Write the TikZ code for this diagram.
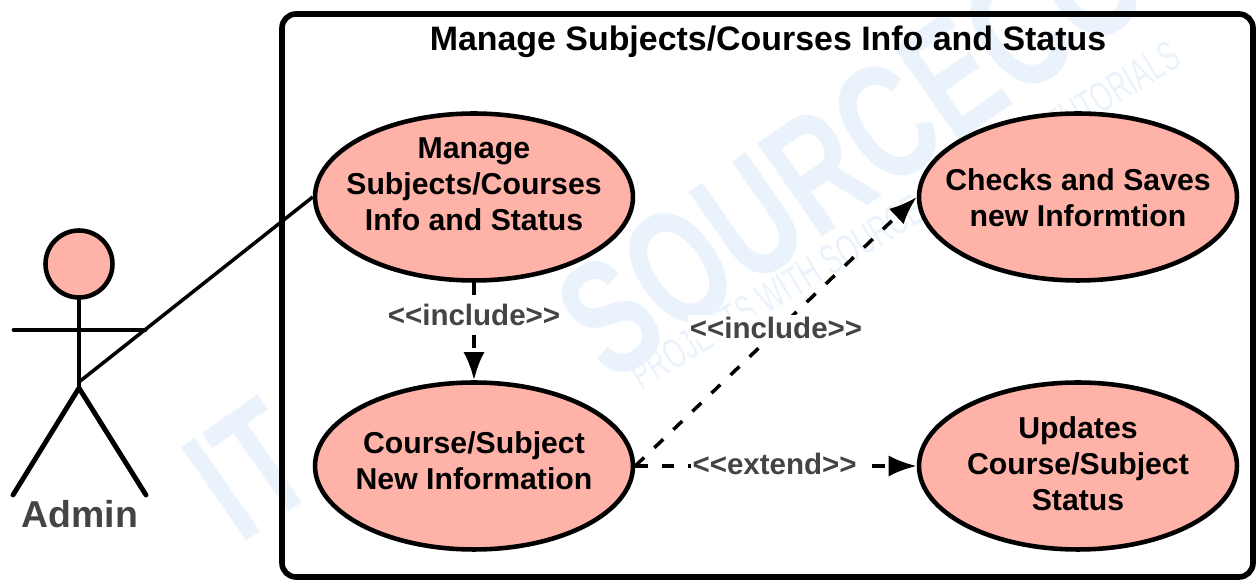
\documentclass[tikz,border=0pt]{standalone}
\usepackage{fontspec}
\setmainfont{Liberation Sans}
\usetikzlibrary{shapes.geometric,arrows.meta}
\begin{document}
\begin{tikzpicture}[x=0.02cm,y=-0.02cm,
usecase/.style={draw,ellipse,line width=2.6pt,fill=salmonfill,minimum width=6.36cm,minimum height=3.34cm,inner sep=-2cm},
casetext/.style={align=center,text=black,font=\fontsize{17.2}{20.4}\selectfont\bfseries},
dep/.style={line width=2pt,dash pattern=on 7pt off 8pt,-{Latex[length=16pt,width=12pt]}},
deplabel/.style={fill=white,text=labelgray,inner sep=1pt,font=\fontsize{16.8}{18}\selectfont\bfseries},
limb/.style={line width=2.8pt,line cap=round},
marktext/.style={text=markblue,transform shape,inner sep=0pt,rotate=35}]
\definecolor{salmonfill}{HTML}{FFB3A8}
\definecolor{labelgray}{HTML}{444444}
\definecolor{markblue}{HTML}{EAF3FC}
\useasboundingbox (0,0) rectangle (1259,580);
% watermark
\node[marktext,xscale=0.7,font=\fontsize{94}{96}\selectfont\bfseries] (brandA) at (250,470) {IT};
\node[marktext,xscale=0.7,font=\fontsize{94}{96}\selectfont\bfseries] (brandB) at (918,101) {SOURCECODE};
\node[marktext,rotate=-4,xscale=0.62,font=\fontsize{24}{26}\selectfont] (tagline) at (905,215) {PROJECTS WITH SOURCE CODE AND TUTORIALS};
% system box
\draw[line width=3.2pt,rounded corners=8pt] (282,14) rectangle (1253,577);
\node[font=\fontsize{19.3}{22}\selectfont\bfseries] (title) at (768,42) {Manage Subjects/Courses Info and Status};
% use cases
\node[usecase,label={[casetext,yshift=0.26cm]center:{Manage\\Subjects/Courses\\Info and Status}}] (manage) at (474,197) {};
\node[usecase,label={[casetext,yshift=0.1cm]center:{Course/Subject\\New Information}}] (newinfo) at (474,466) {};
\node[usecase,label={[casetext,yshift=-0.02cm]center:{Checks and Saves\\new Informtion}}] (checks) at (1078,197) {};
\node[usecase,label={[casetext,yshift=0.04cm]center:{Updates\\Course/Subject\\Status}}] (updates) at (1078,466) {};
% actor
\coordinate (hip) at (79,388);
\coordinate (waist) at (79,382);
\coordinate (armL) at (14,330);
\coordinate (armR) at (145,330);
\coordinate (footL) at (13,495);
\coordinate (footR) at (146,495);
\node[draw,circle,line width=2.6pt,fill=salmonfill,minimum size=1.34cm,inner sep=0pt] (head) at (79,264) {};
\draw[limb] (head.south)--(hip);
\draw[limb] (armL)--(armR);
\draw[limb] (footL)--(hip)--(footR);
\node[text=labelgray,font=\fontsize{21.3}{24}\selectfont\bfseries] (admin) at (80,514) {Admin};
\draw[line width=2pt] (waist)--(manage.west);
% dependencies
\draw[dep] (manage.south)--(newinfo.north) node[deplabel,pos=0.335] (inc1) {<{}<include>{}>};
\draw[dep] (newinfo.east)--(checks.west) node[deplabel,pos=0.5,yshift=0.08cm] (inc2) {<{}<include>{}>};
\draw[dep] (newinfo.east)--(updates.west) node[deplabel,pos=0.495,yshift=0.04cm] (ext) {<{}<extend>{}>};
\end{tikzpicture}
\end{document}
